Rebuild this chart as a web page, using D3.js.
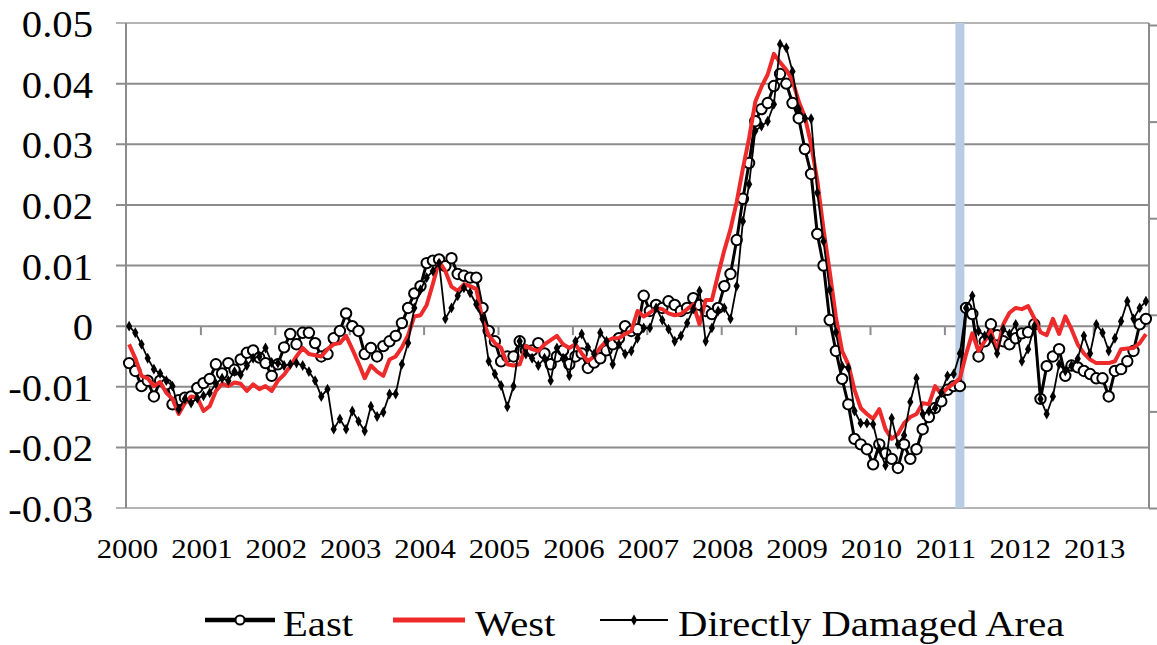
<!DOCTYPE html>
<html>
<head>
<meta charset="utf-8">
<script src="https://cdn.jsdelivr.net/npm/d3@7"></script>
<style>
  body { margin: 0; background: #fff; }
  svg { display: block; }
  text { font-family: "Liberation Serif", "Times New Roman", serif; fill: #000; }
</style>
</head>
<body>
<svg id="chart" width="1157" height="645"></svg>
<script>
// monthly values, Jan 2000 .. Sep 2013
const yearLabels = ["2000", "2001", "2002", "2003", "2004", "2005", "2006",
  "2007", "2008", "2009", "2010", "2011", "2012", "2013"];
const yTicks = [-0.03, -0.02, -0.01, 0, 0.01, 0.02, 0.03, 0.04, 0.05];
const yTickLabels = ["-0.03", "-0.02", "-0.01", "0", "0.01", "0.02", "0.03", "0.04", "0.05"];
const seriesNames = ["East", "West", "Directly Damaged Area"];
const quakeMonth = 134; // March 2011

const east = [
  -.0061,-.0074,-.0099,-.0090,-.0116,-.0090,-.0096,-.0129,-.0122,-.0118,-.0116,-.0102,
  -.0094,-.0087,-.0063,-.0078,-.0061,-.0072,-.0055,-.0044,-.0040,-.0052,-.0061,-.0082,
  -.0063,-.0035,-.0013,-.0030,-.0011,-.0011,-.0028,-.0050,-.0046,-.0020,-.0008,.0021,
  .0000,-.0008,-.0046,-.0036,-.0050,-.0033,-.0025,-.0016,.0005,.0030,.0054,.0066,
  .0104,.0108,.0110,.0099,.0112,.0086,.0083,.0080,.0080,.0030,-.0008,-.0025,
  -.0058,-.0050,-.0050,-.0025,-.0040,-.0040,-.0028,-.0045,-.0063,-.0050,-.0040,-.0063,
  -.0050,-.0045,-.0069,-.0060,-.0053,-.0040,-.0030,-.0020,.0000,-.0008,-.0005,.0050,
  .0025,.0035,.0030,.0041,.0035,.0025,.0030,.0046,.0035,.0025,.0020,.0030,
  .0066,.0086,.0142,.0210,.0269,.0338,.0358,.0368,.0396,.0416,.0400,.0368,
  .0343,.0292,.0251,.0152,.0100,.0010,-.0041,-.0087,-.0129,-.0186,-.0195,-.0203,
  -.0228,-.0195,-.0210,-.0219,-.0234,-.0195,-.0219,-.0203,-.0170,-.0150,-.0135,-.0124,
  -.0105,-.0099,-.0099,.0030,.0020,-.0050,-.0025,.0003,-.0015,-.0025,-.0030,-.0020,
  -.0012,-.0010,.0003,-.0120,-.0066,-.0050,-.0038,-.0082,-.0065,-.0068,-.0074,-.0079,
  -.0086,-.0086,-.0116,-.0074,-.0071,-.0058,-.0041,.0003,.0012
];

const west = [
  -.0030,-.0053,-.0082,-.0086,-.0099,-.0092,-.0110,-.0120,-.0145,-.0127,-.0116,-.0118,
  -.0140,-.0132,-.0107,-.0095,-.0099,-.0093,-.0095,-.0107,-.0096,-.0104,-.0099,-.0107,
  -.0090,-.0080,-.0066,-.0050,-.0036,-.0046,-.0048,-.0050,-.0038,-.0030,-.0028,-.0016,
  -.0038,-.0061,-.0086,-.0065,-.0075,-.0082,-.0055,-.0050,-.0035,-.0015,.0016,.0018,
  .0035,.0070,.0107,.0091,.0065,.0058,.0069,.0066,.0061,.0010,-.0015,-.0028,
  -.0036,-.0063,-.0065,-.0063,-.0033,-.0038,-.0041,-.0030,-.0023,-.0016,-.0030,-.0036,
  -.0030,-.0045,-.0058,-.0050,-.0035,-.0025,-.0020,-.0020,-.0013,-.0008,.0025,.0016,
  .0022,.0030,.0028,.0021,.0018,.0020,.0028,.0036,.0003,.0043,.0043,.0085,
  .0125,.0160,.0205,.0260,.0310,.0370,.0395,.0415,.0449,.0435,.0423,.0405,
  .0371,.0345,.0300,.0240,.0160,.0090,.0015,-.0041,-.0063,-.0105,-.0135,-.0145,
  -.0153,-.0137,-.0170,-.0186,-.0178,-.0160,-.0150,-.0145,-.0127,-.0129,-.0099,-.0112,
  -.0102,-.0095,-.0086,-.0046,-.0012,-.0041,-.0025,-.0008,-.0041,.0003,.0022,.0030,
  .0028,.0033,.0013,-.0010,-.0015,.0012,-.0013,.0016,-.0005,-.0030,-.0045,-.0055,
  -.0061,-.0061,-.0061,-.0058,-.0038,-.0037,-.0036,-.0028,-.0013
];

const damaged = [
  .0000,-.0011,-.0030,-.0053,-.0071,-.0078,-.0090,-.0099,-.0137,-.0120,-.0127,-.0119,
  -.0115,-.0110,-.0095,-.0086,-.0090,-.0075,-.0080,-.0065,-.0053,-.0050,-.0036,-.0060,
  -.0061,-.0065,-.0063,-.0061,-.0065,-.0075,-.0090,-.0116,-.0104,-.0170,-.0153,-.0170,
  -.0140,-.0157,-.0173,-.0132,-.0149,-.0142,-.0112,-.0112,-.0063,-.0028,.0030,.0060,
  .0080,.0091,.0104,.0012,.0030,.0050,.0063,.0055,.0036,.0012,-.0058,-.0079,
  -.0098,-.0133,-.0099,-.0025,-.0046,-.0053,-.0065,-.0053,-.0090,-.0036,-.0053,-.0082,
  -.0025,-.0013,-.0035,-.0046,-.0011,-.0025,-.0063,-.0030,-.0046,-.0041,-.0020,-.0003,
  -.0003,.0030,.0010,-.0005,-.0025,-.0016,.0005,.0028,.0058,-.0025,-.0003,.0025,
  .0030,.0012,.0066,.0173,.0234,.0322,.0330,.0338,.0366,.0465,.0459,.0420,
  .0358,.0343,.0342,.0220,.0140,.0060,-.0010,-.0066,-.0069,-.0140,-.0160,-.0160,
  -.0162,-.0203,-.0230,-.0152,-.0195,-.0180,-.0125,-.0086,-.0145,-.0140,-.0135,-.0110,
  -.0082,-.0079,-.0045,.0030,.0050,-.0008,-.0016,-.0020,-.0045,-.0005,-.0013,.0003,
  -.0058,-.0038,.0000,-.0120,-.0145,-.0116,-.0063,-.0074,-.0065,-.0054,-.0016,-.0045,
  .0003,-.0011,-.0041,-.0020,.0008,.0041,.0012,.0030,.0041
];

const svg = d3.select("#chart");
const plotLeft = 126, plotRight = 1149, plotTop = 23, plotBottom = 508;
const nMonths = east.length;

const x = d3.scaleLinear().domain([0, nMonths]).range([plotLeft, plotRight]);
const y = d3.scaleLinear().domain([-0.03, 0.05]).range([plotBottom, plotTop]);
const px = i => x(i + 0.5);

// stretch text a little sideways, the source picture is wider than tall
function stretch(sel, sx) {
  sel.each(function () {
    const w = this.getComputedTextLength();
    d3.select(this).attr("textLength", w * sx).attr("lengthAdjust", "spacingAndGlyphs");
  });
}

// gridlines
svg.append("g")
  .selectAll("line")
  .data(yTicks)
  .enter()
  .append("line")
  .attr("x1", plotLeft - 10)
  .attr("x2", plotRight)
  .attr("y1", d => y(d))
  .attr("y2", d => y(d))
  .attr("stroke", (d, i) => (i === 0 || i === yTicks.length - 1) ? "#b4b4b4" : "#8c8c8c")
  .attr("stroke-width", 2);

// earthquake band
svg.append("rect")
  .attr("x", px(quakeMonth) - 4.5)
  .attr("y", plotTop)
  .attr("width", 9)
  .attr("height", plotBottom - plotTop)
  .attr("fill", "#b8cce4");

// left axis
svg.append("line")
  .attr("x1", plotLeft).attr("x2", plotLeft)
  .attr("y1", plotTop).attr("y2", plotBottom)
  .attr("stroke", "#8c8c8c").attr("stroke-width", 2);

// right (secondary) axis, its labels fall outside the picture
const y2 = d3.scaleLinear().domain([0, 5]).range([plotBottom, plotTop + 2]);
const rightAxis = svg.append("g")
  .attr("transform", "translate(" + plotRight + ",0)")
  .call(d3.axisRight(y2).ticks(5).tickSize(9).tickFormat(""));
rightAxis.select(".domain").remove();
rightAxis.selectAll("line").attr("stroke", "#8c8c8c").attr("stroke-width", 2);
svg.append("line")
  .attr("x1", plotRight).attr("x2", plotRight)
  .attr("y1", plotTop).attr("y2", plotBottom)
  .attr("stroke", "#8c8c8c").attr("stroke-width", 2);

// category axis along zero
const xAxis = svg.append("g")
  .attr("transform", "translate(0," + y(0) + ")")
  .call(d3.axisBottom(x)
    .tickValues(yearLabels.map((d, i) => i * 12).filter(v => v > 0))
    .tickSize(9)
    .tickFormat(""));
xAxis.select(".domain").remove();
xAxis.selectAll("line").attr("stroke", "#8c8c8c").attr("stroke-width", 2);

// y labels
svg.append("g")
  .selectAll("text")
  .data(yTicks)
  .enter()
  .append("text")
  .attr("x", 93)
  .attr("y", d => y(d) + 14)
  .attr("text-anchor", "end")
  .attr("font-size", "38px")
  .text((d, i) => yTickLabels[i])
  .call(stretch, 1.07);

// year labels
svg.append("g")
  .selectAll("text")
  .data(yearLabels)
  .enter()
  .append("text")
  .attr("x", (d, i) => x(i * 12) + 1.5)
  .attr("y", 558)
  .attr("text-anchor", "middle")
  .attr("font-size", "26.5px")
  .text(d => d)
  .call(stretch, 1.16);

const line = d3.line()
  .x((d, i) => px(i))
  .y(d => y(d));

// East
svg.append("path")
  .datum(east)
  .attr("d", line)
  .attr("fill", "none")
  .attr("stroke", "#000")
  .attr("stroke-width", 3)
  .attr("stroke-linejoin", "round");

svg.append("g")
  .selectAll("circle")
  .data(east)
  .enter()
  .append("circle")
  .attr("cx", (d, i) => px(i))
  .attr("cy", d => y(d))
  .attr("r", 5.2)
  .attr("fill", "#fff")
  .attr("stroke", "#000")
  .attr("stroke-width", 2);

// West
svg.append("path")
  .datum(west)
  .attr("d", line)
  .attr("fill", "none")
  .attr("stroke", "#ee2a2a")
  .attr("stroke-width", 4)
  .attr("stroke-linejoin", "round");

// Directly damaged area
svg.append("path")
  .datum(damaged)
  .attr("d", line)
  .attr("fill", "none")
  .attr("stroke", "#000")
  .attr("stroke-width", 1.8)
  .attr("stroke-linejoin", "round");

const diamond = d3.symbol().type(d3.symbolDiamond).size(34);
svg.append("g")
  .selectAll("path")
  .data(damaged)
  .enter()
  .append("path")
  .attr("d", diamond)
  .attr("transform", (d, i) => "translate(" + px(i) + "," + y(d) + ")")
  .attr("fill", "#000");

// legend
const legendItems = [
  { name: seriesNames[0], x1: 205, x2: 275, tx: 283, color: "#000", w: 4.5, mark: "circle" },
  { name: seriesNames[1], x1: 393, x2: 465, tx: 475, color: "#ee2a2a", w: 5, mark: null },
  { name: seriesNames[2], x1: 600, x2: 668, tx: 678, color: "#000", w: 2.2, mark: "diamond" }
];
const ly = 620;
const lg = svg.append("g");
legendItems.forEach(function (item) {
  lg.append("line")
    .attr("x1", item.x1).attr("x2", item.x2)
    .attr("y1", ly).attr("y2", ly)
    .attr("stroke", item.color)
    .attr("stroke-width", item.w);
  const cx = (item.x1 + item.x2) / 2;
  if (item.mark === "circle") {
    lg.append("circle")
      .attr("cx", cx).attr("cy", ly).attr("r", 4.5)
      .attr("fill", "#fff").attr("stroke", "#000").attr("stroke-width", 2);
  } else if (item.mark === "diamond") {
    lg.append("path")
      .attr("d", diamond)
      .attr("transform", "translate(" + cx + "," + ly + ")");
  }
  lg.append("text")
    .attr("x", item.tx)
    .attr("y", 636)
    .attr("font-size", "36px")
    .text(item.name)
    .call(stretch, 1.13);
});
</script>
</body>
</html>
